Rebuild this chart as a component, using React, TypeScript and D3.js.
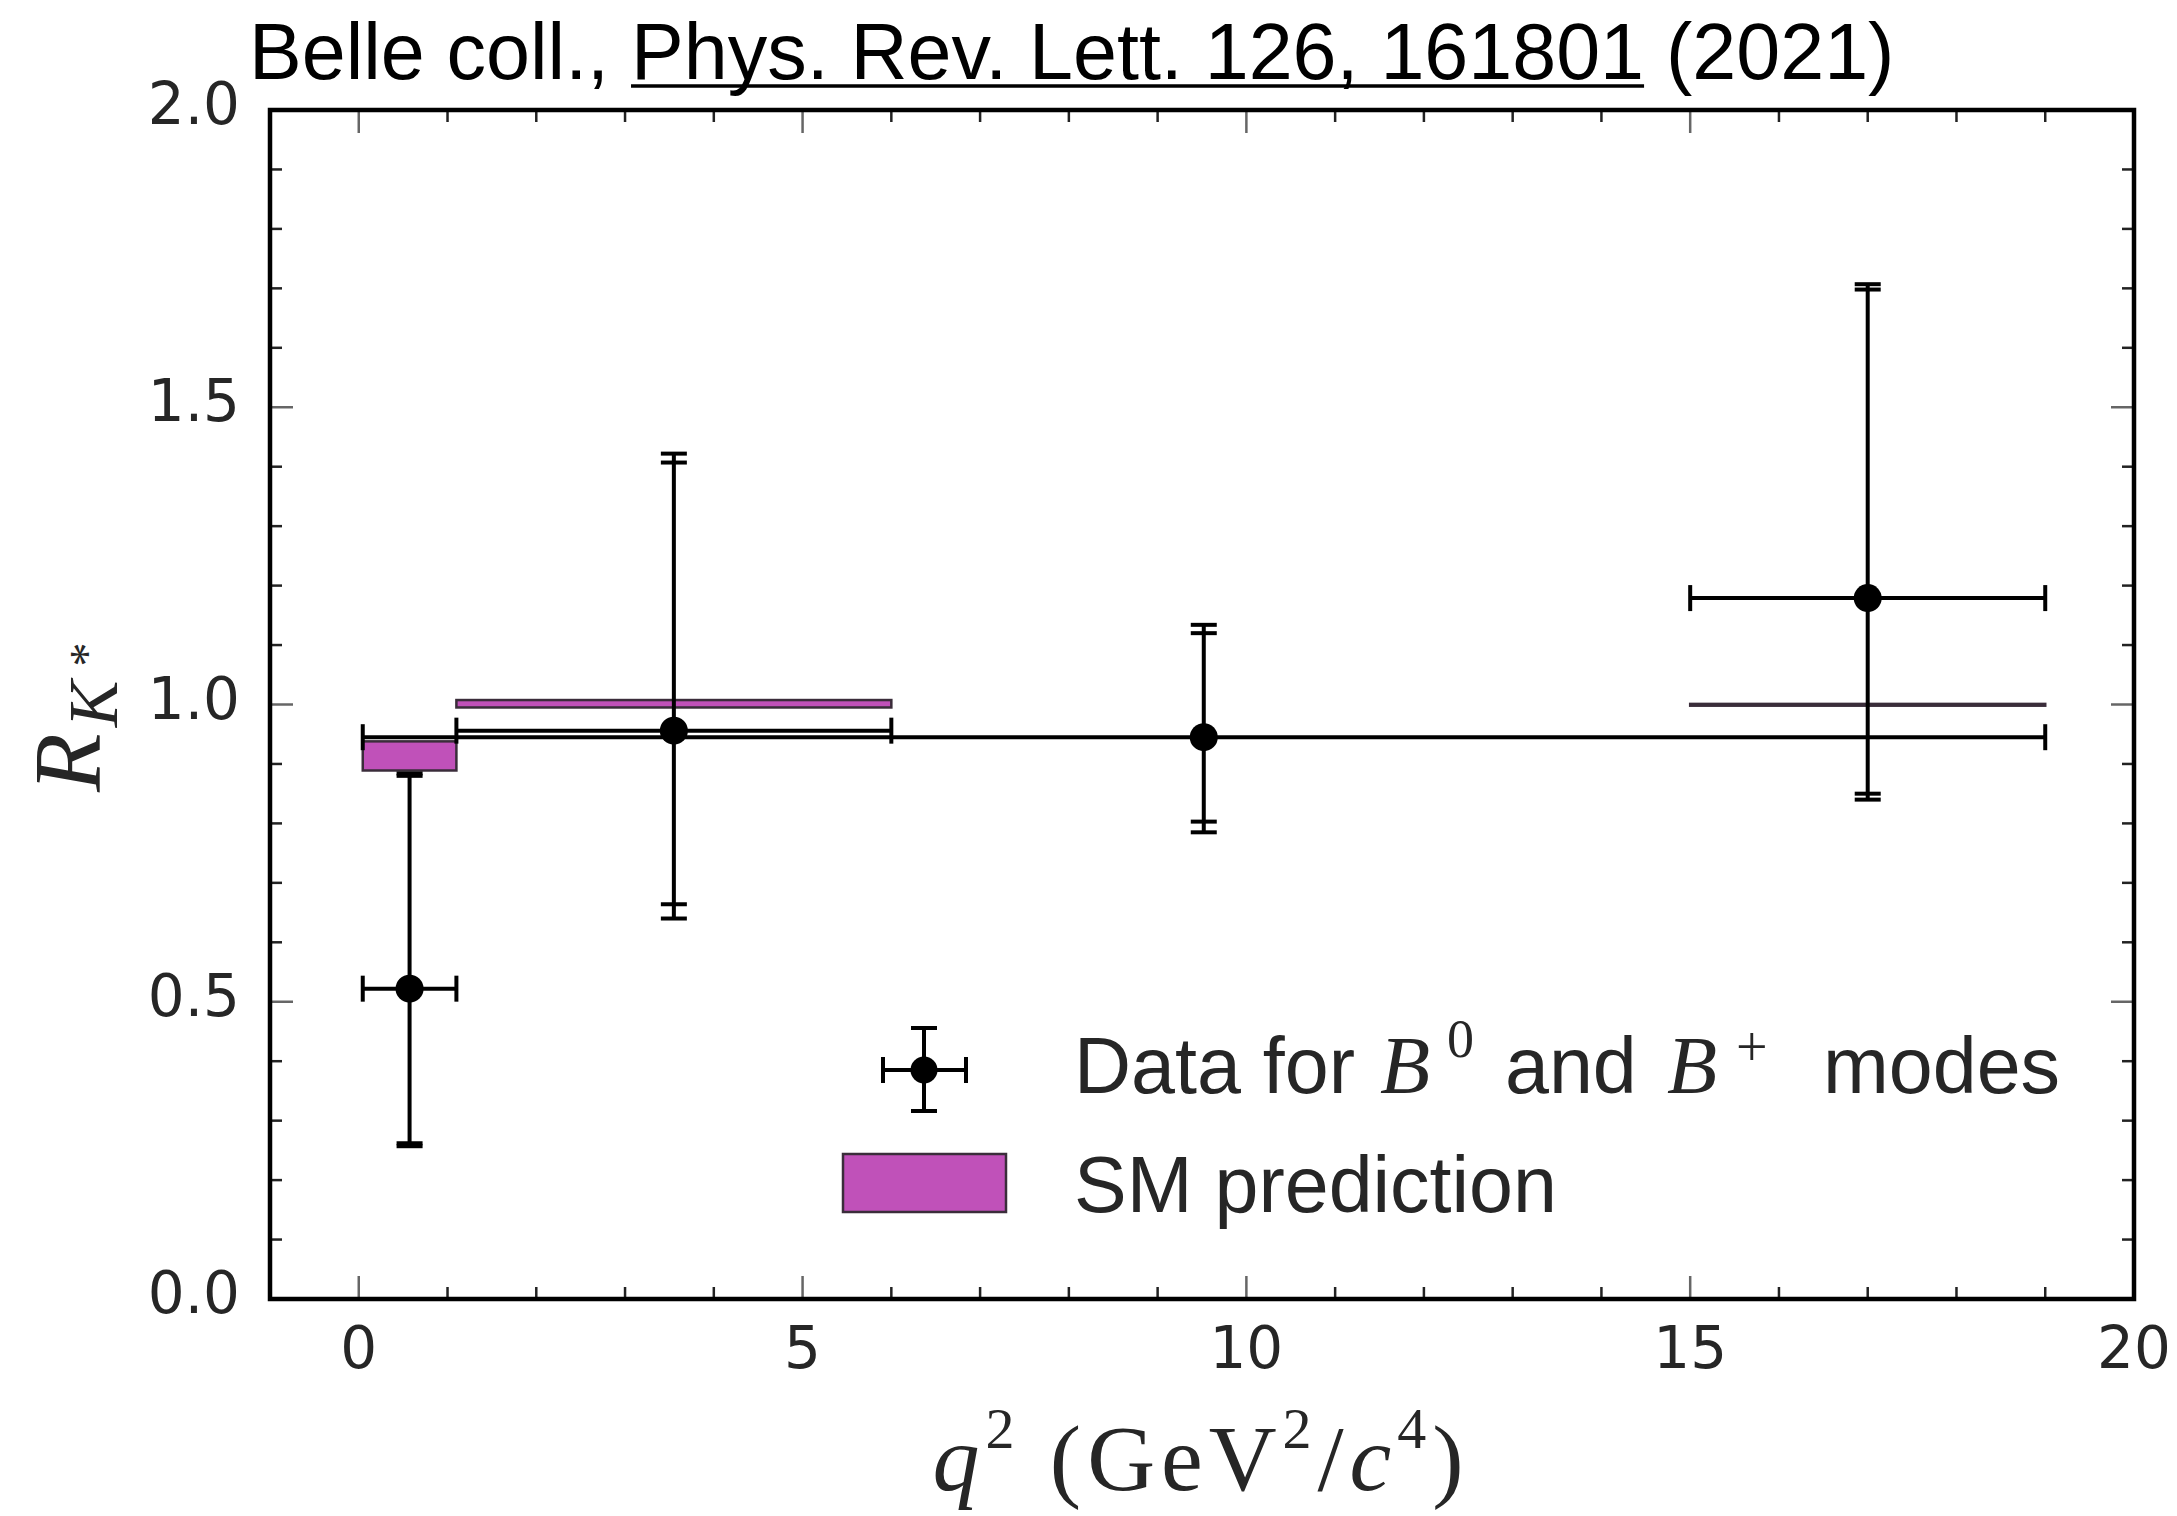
import React, { useLayoutEffect, useRef, useState } from 'react';
import * as d3 from 'd3';

// ---- Data ----
const binLo = [0.045, 1.1, 0.045, 15.0];
const binHi = [1.1, 6.0, 19.0, 19.0];
const qCenter = [0.5725, 3.55, 9.52, 17.0];
const rValue = [0.522, 0.956, 0.945, 1.179];
const statHi = [0.880, 1.407, 1.120, 1.698];
const totHi = [0.884, 1.422, 1.134, 1.707];
const statLo = [0.262, 0.664, 0.803, 0.850];
const totLo = [0.257, 0.640, 0.785, 0.840];

const smLo = [0.045, 1.1, 15.0];
const smHi = [1.1, 6.0, 19.0];
const smBottom = [0.889, 0.995, 0.998];
const smTop = [0.938, 1.0075, 1.001];

const xMajorTicks = [0, 5, 10, 15, 20];
const xTickLabels = ['0', '5', '10', '15', '20'];
const yMajorTicks = [0, 0.5, 1.0, 1.5, 2.0];
const yTickLabels = ['0.0', '0.5', '1.0', '1.5', '2.0'];

const W = 2177;
const H = 1516;
const MAGENTA = '#c051b9';
const EDGE = '#3a2d3a';
const TXT = '#262626';
const SANS = "'Liberation Sans', Arial, Helvetica, sans-serif";
const SERIF = "'Liberation Serif', 'DejaVu Serif', serif";

export default function App() {
  const x = d3.scaleLinear().domain([-1, 20]).range([270, 2134]);
  const y = d3.scaleLinear().domain([0, 2]).range([1299, 110]);
  const [x0, x1] = x.range();
  const [yb, yt] = y.range();

  const xMinor = d3.range(-1, 21, 1).filter((v) => !xMajorTicks.includes(v) && v > -1);
  const yMinor = d3.range(0, 21, 1).map((v) => v / 10).filter((v) => Math.round(v * 10) % 5 !== 0);

  const majLen = 23;
  const minLen = 12;
  const cap = 13;
  const lw = 4;

  const linkRef = useRef<SVGTSpanElement | null>(null);
  const [ul, setUl] = useState<{ a: number; b: number }>({ a: 636, b: 1657 });
  useLayoutEffect(() => {
    const el = linkRef.current;
    if (el) {
      try {
        const start = el.getStartPositionOfChar(0).x;
        const len = el.getComputedTextLength();
        setUl({ a: start, b: start + len });
      } catch (e) {
        /* keep default */
      }
    }
  }, []);

  return (
    <svg
      width={W}
      height={H}
      viewBox={`0 0 ${W} ${H}`}
      style={{ position: 'absolute', left: 0, top: 0, display: 'block', background: '#fff' }}
    >
      <rect x={0} y={0} width={W} height={H} fill="#fff" />

      {/* Title */}
      <text x={249} y={79} fontFamily={SANS} fontSize={79} fill="#000">
        {'Belle coll., '}
        <tspan ref={linkRef}>{'Phys. Rev. Lett. 126, 161801'}</tspan>
        {' (2021)'}
      </text>
      <line x1={ul.a} x2={ul.b} y1={86} y2={86} stroke="#000" strokeWidth={3.5} />

      {/* SM prediction boxes */}
      {smLo.map((lo, i) => (
        <rect
          key={'sm' + i}
          x={x(lo)}
          y={y(smTop[i])}
          width={x(smHi[i]) - x(lo)}
          height={y(smBottom[i]) - y(smTop[i])}
          fill={MAGENTA}
          stroke={EDGE}
          strokeWidth={2.5}
        />
      ))}

      {/* Data points with error bars */}
      {qCenter.map((q, i) => {
        const cx = x(q);
        const cy = y(rValue[i]);
        return (
          <g key={'pt' + i} stroke="#000" strokeWidth={lw} fill="none">
            <line x1={cx} x2={cx} y1={y(totLo[i])} y2={y(totHi[i])} />
            {[statHi[i], totHi[i], statLo[i], totLo[i]].map((v, j) => (
              <line key={j} x1={cx - cap} x2={cx + cap} y1={y(v)} y2={y(v)} />
            ))}
            <line x1={x(binLo[i])} x2={x(binHi[i])} y1={cy} y2={cy} />
            <line x1={x(binLo[i])} x2={x(binLo[i])} y1={cy - cap} y2={cy + cap} />
            <line x1={x(binHi[i])} x2={x(binHi[i])} y1={cy - cap} y2={cy + cap} />
            <circle cx={cx} cy={cy} r={14} fill="#000" stroke="none" />
          </g>
        );
      })}

      {/* Ticks */}
      <g>
        {xMajorTicks.map((v) => (
          <g key={'xM' + v} stroke="#666" strokeWidth={2.5}>
            <line x1={x(v)} x2={x(v)} y1={yb} y2={yb - majLen} />
            <line x1={x(v)} x2={x(v)} y1={yt} y2={yt + majLen} />
          </g>
        ))}
        {xMinor.map((v) => (
          <g key={'xm' + v} stroke="#222" strokeWidth={2.5}>
            <line x1={x(v)} x2={x(v)} y1={yb} y2={yb - minLen} />
            <line x1={x(v)} x2={x(v)} y1={yt} y2={yt + minLen} />
          </g>
        ))}
        {yMajorTicks.map((v) => (
          <g key={'yM' + v} stroke="#666" strokeWidth={2.5}>
            <line x1={x0} x2={x0 + majLen} y1={y(v)} y2={y(v)} />
            <line x1={x1} x2={x1 - majLen} y1={y(v)} y2={y(v)} />
          </g>
        ))}
        {yMinor.map((v) => (
          <g key={'ym' + v} stroke="#222" strokeWidth={2.5}>
            <line x1={x0} x2={x0 + minLen} y1={y(v)} y2={y(v)} />
            <line x1={x1} x2={x1 - minLen} y1={y(v)} y2={y(v)} />
          </g>
        ))}
      </g>

      {/* Frame */}
      <rect x={x0} y={yt} width={x1 - x0} height={yb - yt} fill="none" stroke="#000" strokeWidth={4.5} />

      {/* Tick labels */}
      <g fontFamily="'DejaVu Sans', sans-serif" fontSize={58} fill={TXT}>
        {xMajorTicks.map((v, i) => (
          <text key={'xl' + v} x={x(v)} y={1368} textAnchor="middle">
            {xTickLabels[i]}
          </text>
        ))}
        {yMajorTicks.map((v, i) => (
          <text key={'yl' + v} x={240} y={y(v) + 14} textAnchor="end">
            {yTickLabels[i]}
          </text>
        ))}
      </g>

      {/* Axis labels */}
      <text
        x={1198}
        y={1490}
        textAnchor="middle"
        fontFamily={SERIF}
        fontSize={94}
        fill={TXT}
        textLength={531}
        lengthAdjust="spacing"
      >
        <tspan fontStyle="italic">q</tspan>
        <tspan fontSize={58} dy={-42}>2</tspan>
        <tspan dy={42}>{' (GeV'}</tspan>
        <tspan fontSize={58} dy={-42}>2</tspan>
        <tspan dy={42}>/</tspan>
        <tspan fontStyle="italic">c</tspan>
        <tspan fontSize={58} dy={-42}>4</tspan>
        <tspan dy={42}>)</tspan>
      </text>

      <text transform="translate(100,792) rotate(-90)" fontFamily={SERIF} fontStyle="italic" fill={TXT}>
        <tspan fontSize={96}>R</tspan>
        <tspan fontSize={70} dx={6} dy={17}>K</tspan>
        <tspan fontSize={48} dx={12} dy={-14}>*</tspan>
      </text>

      {/* Legend */}
      <g stroke="#000" strokeWidth={lw}>
        <line x1={883} x2={966} y1={1070} y2={1070} />
        <line x1={883} x2={883} y1={1070 - cap} y2={1070 + cap} />
        <line x1={966} x2={966} y1={1070 - cap} y2={1070 + cap} />
        <line x1={924} x2={924} y1={1028} y2={1111} />
        <line x1={924 - cap} x2={924 + cap} y1={1028} y2={1028} />
        <line x1={924 - cap} x2={924 + cap} y1={1111} y2={1111} />
        <circle cx={924} cy={1070} r={13.5} fill="#000" stroke="none" />
      </g>
      <rect x={843} y={1154} width={163} height={58} fill={MAGENTA} stroke={EDGE} strokeWidth={2.5} />

      <g fontFamily={SANS} fontSize={79} fill={TXT}>
        <text x={1074} y={1093}>Data for</text>
        <text x={1380} y={1093} fontFamily={SERIF} fontStyle="italic" fontSize={82}>B</text>
        <text x={1447} y={1057} fontFamily={SERIF} fontSize={54}>0</text>
        <text x={1505} y={1093}>and</text>
        <text x={1667} y={1093} fontFamily={SERIF} fontStyle="italic" fontSize={82}>B</text>
        <text x={1736} y={1066} fontFamily={SERIF} fontSize={56}>+</text>
        <text x={1823} y={1093}>modes</text>
        <text x={1074} y={1212}>SM prediction</text>
      </g>
    </svg>
  );
}
